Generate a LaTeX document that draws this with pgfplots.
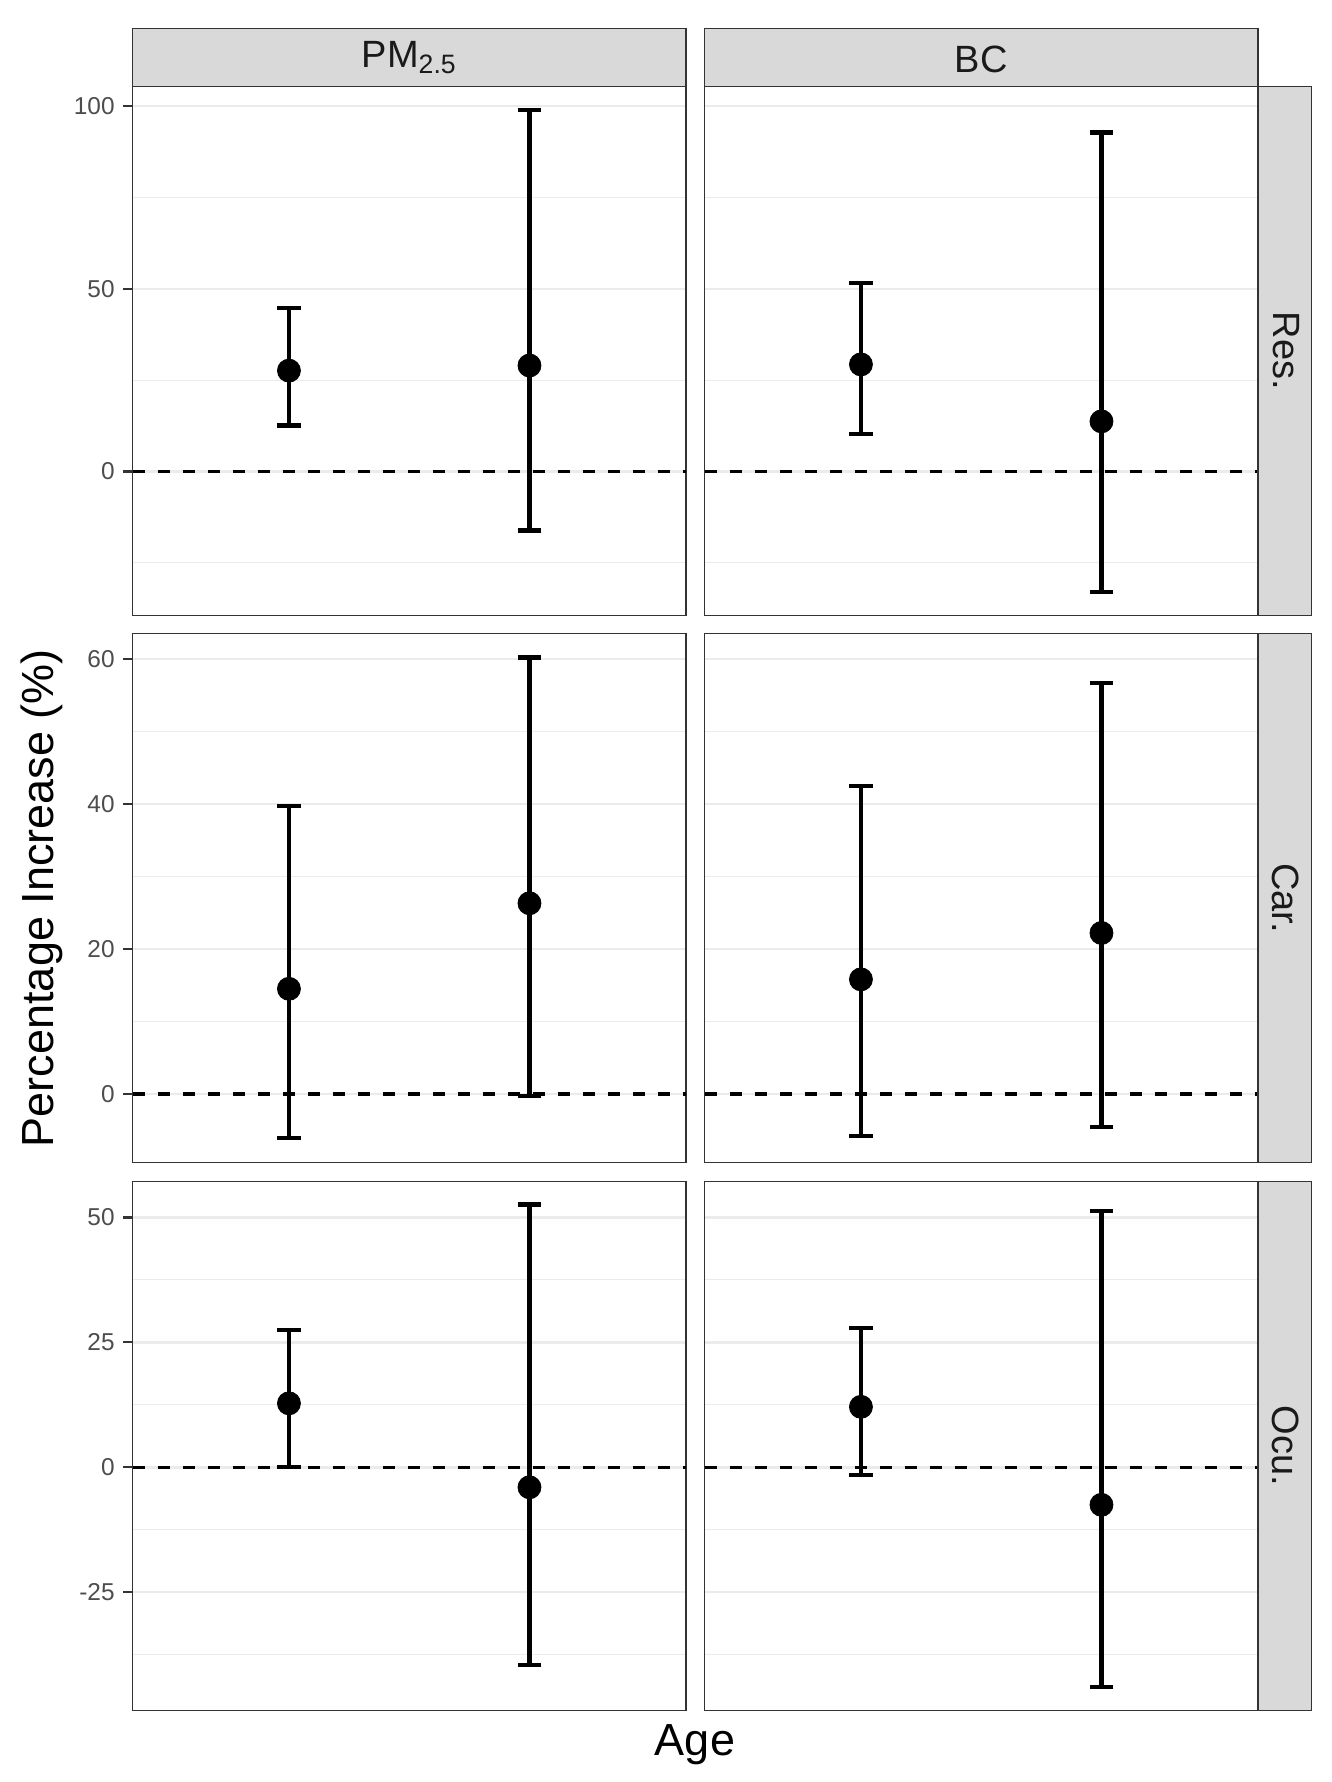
\documentclass[border=0pt]{standalone}
\usepackage{pgfplots}
\pgfplotsset{compat=1.18}
\usepackage{pgfplotstable}
\usepackage{fontspec}
\setmainfont{Liberation Sans}
\definecolor{g20}{HTML}{333333}
\definecolor{g92}{HTML}{EBEBEB}
\definecolor{g85}{HTML}{D9D9D9}
\definecolor{g30}{HTML}{4D4D4D}
\definecolor{g10}{HTML}{1A1A1A}

% x: 1 = first age group, 2 = second age group
\pgfplotstableread{
x y lo hi
1 27.6 12.6 44.7
2 29.0 -16.2 98.9
}\pmres
\pgfplotstableread{
x y lo hi
1 29.3 10.3 51.5
2 13.7 -33.0 92.8
}\bcres
\pgfplotstableread{
x y lo hi
1 14.5 -6.1 39.7
2 26.3 -0.3 60.2
}\pmcar
\pgfplotstableread{
x y lo hi
1 15.8 -5.8 42.5
2 22.2 -4.6 56.7
}\bccar
\pgfplotstableread{
x y lo hi
1 12.8 0.0 27.5
2 -4.0 -39.6 52.6
}\pmocu
\pgfplotstableread{
x y lo hi
1 12.1 -1.6 27.8
2 -7.5 -44.0 51.3
}\bcocu

\pgfplotsset{
  facet/.style={
    scale only axis, width=276.6pt, height=264.4pt,
    anchor=north west,
    xmin=0.35, xmax=2.65, xtick=\empty,
    axis line style={draw=g20, line width=0.7pt},
    tick align=outside,
    major tick length=4.6pt, minor tick length=0pt,
    major tick style={draw=g20, line width=1.1pt},
    ytick pos=left,
    ymajorgrids, yminorgrids,
    major grid style={draw=g92, line width=1.2pt},
    minor grid style={draw=g92, line width=0.6pt},
    yticklabel style={font=\fontsize{12.2}{14}\selectfont, text=g30, anchor=east, inner sep=0pt, xshift=-4.2pt},
    /pgf/number format/assume math mode=true,
  },
  rightcol/.style={yticklabels={}, major tick length=0pt},
  zero/.style={black, line width=1.8pt, dash pattern=on 6pt off 6.5pt, forget plot},
  est/.style={black, only marks, mark=*, mark size=5.75pt,
    mark options={draw=none, fill=black},
    error bars/y dir=both, error bars/y explicit,
    error bars/error mark=|,
    error bars/error bar style={line width=2.1pt, black, solid},
    error bars/error mark options={line width=2.1pt, mark size=5.9pt, black, solid}},
}

\newcommand{\est}[1]{\addplot[est] table[x=x, y=y,
  y error plus expr=\thisrow{hi}-\thisrow{y},
  y error minus expr=\thisrow{y}-\thisrow{lo}] {#1};}

\begin{document}
\begin{tikzpicture}
\path (0,0) rectangle (666pt,-891pt);

% ---------- Row 1: Res.
\begin{axis}[facet, at={(66.3pt,-43.25pt)}, ymin=-39.4, ymax=105.4,
  ytick={0,50,100}, yticklabels={0,50,100}, minor ytick={-25,25,75}]
\addplot[zero] coordinates {(0.35,0) (2.65,0)};
\est{\pmres}
\end{axis}
\begin{axis}[facet, rightcol, at={(352.3pt,-43.25pt)}, ymin=-39.4, ymax=105.4,
  ytick={0,50,100}, minor ytick={-25,25,75}]
\addplot[zero] coordinates {(0.35,0) (2.65,0)};
\est{\bcres}
\end{axis}

% ---------- Row 2: Car.
\begin{axis}[facet, at={(66.3pt,-316.8pt)}, ymin=-9.45, ymax=63.5,
  ytick={0,20,40,60}, yticklabels={0,20,40,60}, minor ytick={10,30,50}]
\addplot[zero] coordinates {(0.35,0) (2.65,0)};
\est{\pmcar}
\end{axis}
\begin{axis}[facet, rightcol, at={(352.3pt,-316.8pt)}, ymin=-9.45, ymax=63.5,
  ytick={0,20,40,60}, minor ytick={10,30,50}]
\addplot[zero] coordinates {(0.35,0) (2.65,0)};
\est{\bccar}
\end{axis}

% ---------- Row 3: Ocu.
\begin{axis}[facet, at={(66.3pt,-590.7pt)}, ymin=-48.6, ymax=57.2,
  ytick={-25,0,25,50}, yticklabels={-25,0,25,50}, minor ytick={-37.5,-12.5,12.5,37.5}]
\addplot[zero] coordinates {(0.35,0) (2.65,0)};
\est{\pmocu}
\end{axis}
\begin{axis}[facet, rightcol, at={(352.3pt,-590.7pt)}, ymin=-48.6, ymax=57.2,
  ytick={-25,0,25,50}, minor ytick={-37.5,-12.5,12.5,37.5}]
\addplot[zero] coordinates {(0.35,0) (2.65,0)};
\est{\bcocu}
\end{axis}

% ---------- strips
\draw[g20, line width=0.7pt, fill=g85] (66.3pt,-14.3pt) rectangle (342.9pt,-43.25pt);
\draw[g20, line width=0.7pt, fill=g85] (352.3pt,-14.3pt) rectangle (628.9pt,-43.25pt);
\draw[g20, line width=0.7pt, fill=g85] (628.9pt,-43.25pt) rectangle (655.7pt,-307.65pt);
\draw[g20, line width=0.7pt, fill=g85] (628.9pt,-316.8pt) rectangle (655.7pt,-581.2pt);
\draw[g20, line width=0.7pt, fill=g85] (628.9pt,-590.7pt) rectangle (655.7pt,-855.1pt);

\node[anchor=base, text=g10, font=\fontsize{19}{22}\selectfont, inner sep=0pt] at (204.6pt,-33.65pt) {PM\textsubscript{2.5}};
\node[anchor=base, text=g10, font=\fontsize{19}{22}\selectfont, inner sep=0pt] at (490.6pt,-36.3pt) {BC};
\node[rotate=-90, anchor=center, text=g10, font=\fontsize{19}{22}\selectfont, inner sep=0pt] at (643pt,-175.4pt) {Res.};
\node[rotate=-90, anchor=center, text=g10, font=\fontsize{19}{22}\selectfont, inner sep=0pt] at (643pt,-449.1pt) {Car.};
\node[rotate=-90, anchor=center, text=g10, font=\fontsize{19}{22}\selectfont, inner sep=0pt] at (643pt,-722.9pt) {Ocu.};

% ---------- axis titles
\node[rotate=90, anchor=base, font=\fontsize{22.5}{26}\selectfont, inner sep=0pt] at (26.8pt,-449.1pt) {Percentage Increase (\%)};
\node[anchor=base, font=\fontsize{22.5}{26}\selectfont, inner sep=0pt] at (347.5pt,-877.5pt) {Age};
\end{tikzpicture}
\end{document}
